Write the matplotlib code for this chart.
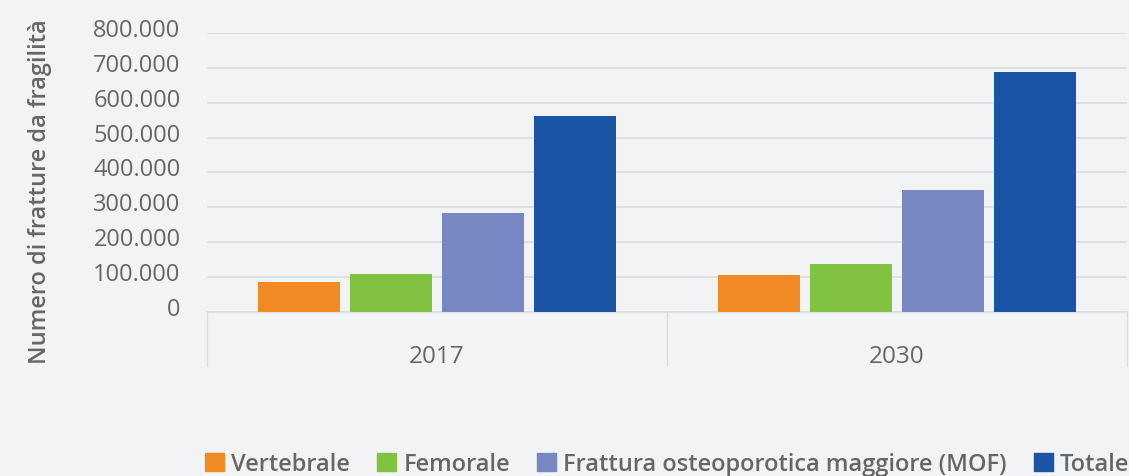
import matplotlib
matplotlib.use('Agg')
import matplotlib.pyplot as plt
import matplotlib.patches as mpatches
import matplotlib.transforms as mtransforms
from matplotlib.ticker import FuncFormatter
import numpy as np

# Data
years = ['2017', '2030']
series = ['Vertebrale', 'Femorale', 'Frattura osteoporotica maggiore (MOF)', 'Totale']
vertebrale = [86000, 106000]
femorale = [109000, 137000]
mof = [284000, 349000]
totale = [562000, 688000]
values = [vertebrale, femorale, mof, totale]
colors = ['#f28a24', '#82c241', '#7886c2', '#1a55a5']

bg = '#f2f3f5'
txt = '#666666'
plt.rcParams['font.family'] = ['Open Sans', 'DejaVu Sans']

W, H = 1129, 477
fig = plt.figure(figsize=(W / 100, H / 100), dpi=100, facecolor=bg)
ax = fig.add_axes([207 / W, 1 - 313 / H, 920 / W, 279 / H], facecolor=bg)

x = np.arange(len(years))
offsets = [-0.3, -0.1, 0.1, 0.3]
for vals, off, col in zip(values, offsets, colors):
    ax.bar(x + off, vals, width=0.18, color=col, zorder=3)

ax.set_xlim(-0.5, 1.5)
ax.set_ylim(0, 800000)
ax.set_yticks(range(0, 800001, 100000))
ax.yaxis.set_major_formatter(FuncFormatter(lambda v, p: '{:,.0f}'.format(v).replace(',', '.')))
ax.grid(axis='y', color='#dcdcdc', linewidth=1.2, zorder=0)

ax.set_xticks(x)
ax.set_xticklabels(years)
ax.set_xticks([-0.5, 0.5, 1.5], minor=True)
ax.tick_params(axis='x', which='major', length=0, pad=23, labelsize=17.5, labelcolor=txt)
ax.tick_params(axis='x', which='minor', length=39, width=1, color='#dcdcdc', direction='out')
ax.tick_params(axis='y', length=0, pad=19, labelsize=17, labelcolor=txt)

# tick labels sit a little above their gridlines
shift = mtransforms.ScaledTranslation(0, 6 / 100, fig.dpi_scale_trans)
for lab in ax.get_yticklabels():
    lab.set_transform(lab.get_transform() + shift)

for s in ['top', 'right', 'left']:
    ax.spines[s].set_visible(False)
ax.spines['bottom'].set_color('#dcdcdc')
ax.spines['bottom'].set_linewidth(1.2)

fig.text(40 / W, 1 - 192 / H, 'Numero di fratture da fragilità', rotation=90,
         ha='center', va='center', fontsize=17, color=txt, fontweight='semibold')

handles = [mpatches.Patch(color=c, label=s) for c, s in zip(colors, series)]
leg = fig.legend(handles=handles, loc='center left', bbox_to_anchor=(196 / W, 1 - 465 / H),
                 ncol=4, frameon=False, fontsize=17, handlelength=0.8, handleheight=0.8,
                 handletextpad=0.3, columnspacing=1.15, borderaxespad=0)
for t in leg.get_texts():
    t.set_color(txt)
    t.set_fontweight('semibold')

fig.savefig('out.png', dpi=100, facecolor=bg)
